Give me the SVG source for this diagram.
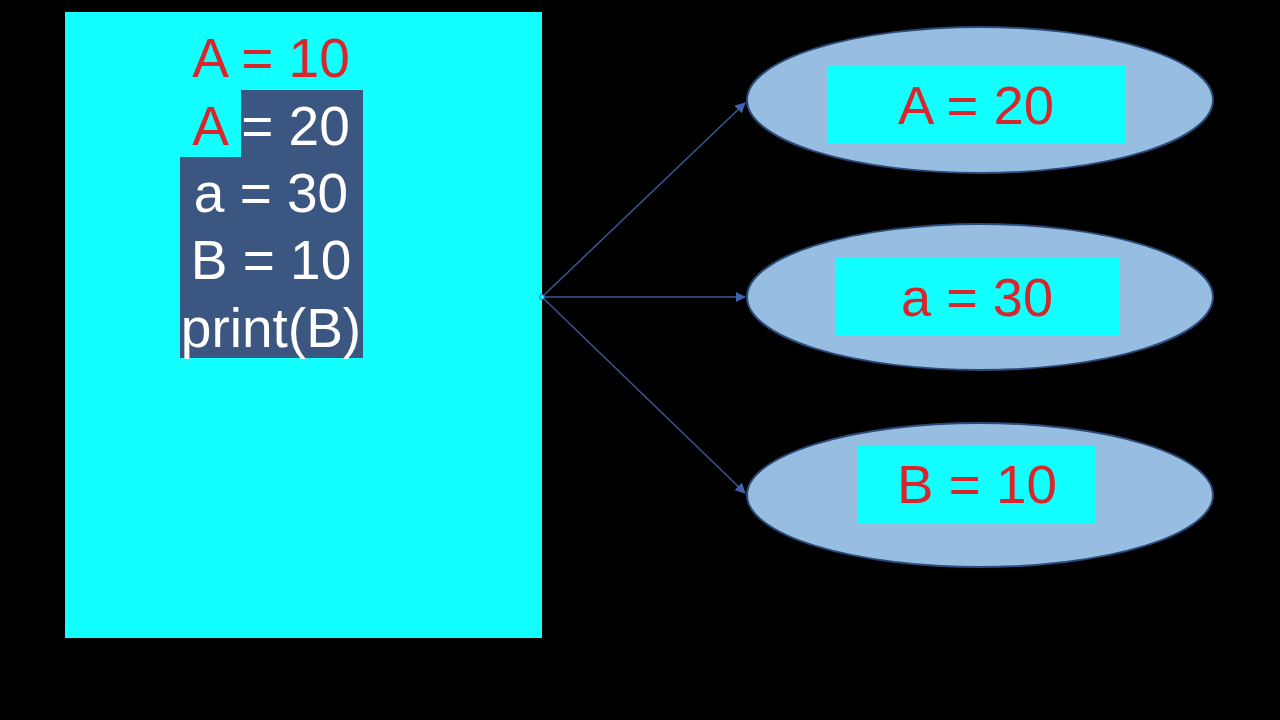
<svg xmlns="http://www.w3.org/2000/svg" width="1280" height="720" viewBox="0 0 1280 720">
<style>
.code{font-family:"Liberation Sans",Arial,sans-serif;font-size:55px;text-anchor:middle}
.lbl{font-family:"Liberation Sans",Arial,sans-serif;font-size:54px;fill:#d8262c;text-anchor:middle}
.ell{fill:#97bde0;stroke:#2a4a7a;stroke-width:2}
.box{fill:#12ffff}
.con{stroke:#3a5896;stroke-width:1.5;fill:none;marker-end:url(#ah)}
</style>
<defs>
<marker id="ah" viewBox="0 0 10 10" refX="9" refY="5" markerWidth="7" markerHeight="7" orient="auto"><path d="M0,0L10,5L0,10z" fill="#3f62b0"/></marker>
</defs>
<rect width="1280" height="720" fill="#000"/>
<g id="code-panel">
<rect x="65" y="12" width="477" height="626" fill="#12ffff"/>
<polygon points="241,90 363,90 363,358 180,358 180,157 241,157" fill="#3b5680"/>
<text class="code" x="271" y="77" fill="#d8262c">A = 10</text>
<text class="code" x="271" y="145"><tspan fill="#d8262c">A</tspan><tspan fill="#fff"> = 20</tspan></text>
<text class="code" x="271" y="212" fill="#fff">a = 30</text>
<text class="code" x="271" y="279" fill="#fff">B = 10</text>
<text class="code" x="271" y="347" fill="#fff">print(B)</text>
</g>
<g id="connectors">
<line class="con" x1="542" y1="297" x2="745" y2="103"/>
<line class="con" x1="542" y1="297" x2="745" y2="297"/>
<line class="con" x1="542" y1="297" x2="745" y2="493"/>
<circle cx="542" cy="297" r="2.5" fill="#12ffff" stroke="#3a5896"/>
</g>
<g id="node-a20">
<ellipse class="ell" cx="980" cy="100" rx="233" ry="73"/>
<rect class="box" x="827" y="65" width="298" height="78"/>
<text class="lbl" x="976" y="124" textLength="156" lengthAdjust="spacingAndGlyphs">A = 20</text>
</g>
<g id="node-a30">
<ellipse class="ell" cx="980" cy="297" rx="233" ry="73"/>
<rect class="box" x="835" y="258" width="285" height="78"/>
<text class="lbl" x="977" y="316" textLength="152" lengthAdjust="spacingAndGlyphs">a = 30</text>
</g>
<g id="node-b10">
<ellipse class="ell" cx="980" cy="495" rx="233" ry="72"/>
<rect class="box" x="858" y="446" width="237" height="78"/>
<text class="lbl" x="977" y="503" textLength="160" lengthAdjust="spacingAndGlyphs">B = 10</text>
</g>
</svg>
